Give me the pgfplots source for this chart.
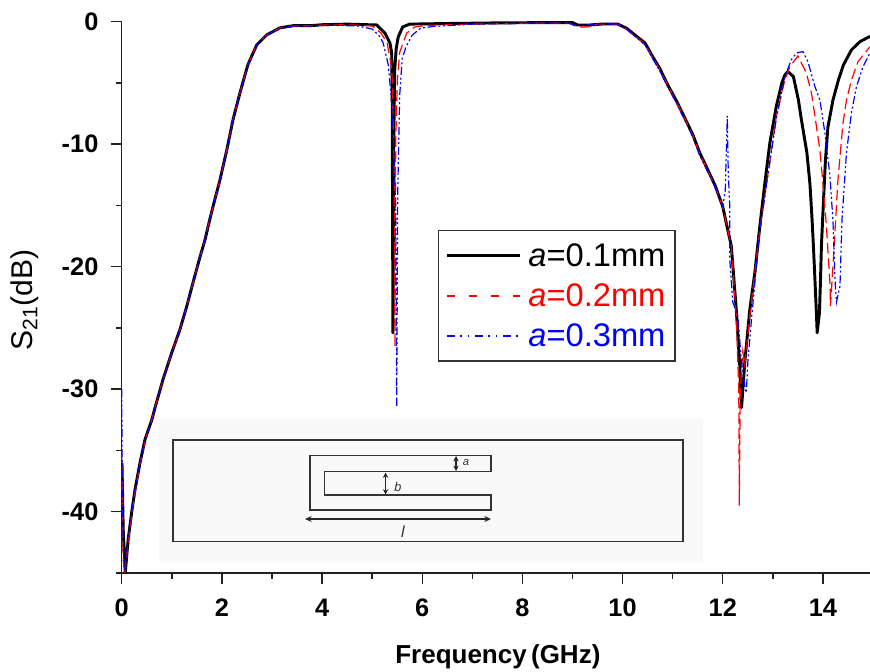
\documentclass[border=0pt]{standalone}
\usepackage{pgfplots}
\pgfplotsset{compat=1.18}
\usepackage{fontspec}
\setmainfont{Liberation Sans}
\usetikzlibrary{arrows.meta}
\definecolor{axc}{HTML}{222222}
\definecolor{legred}{RGB}{255,0,0}
\definecolor{legblue}{RGB}{0,0,255}
\begin{document}
\begin{tikzpicture}
\path[use as bounding box] (0,0) rectangle (652.5pt,503.25pt);
% inset (pixel coordinates)
\begin{scope}[x=0.75pt,y=-0.75pt,shift={(0pt,503.25pt)}]
\fill[black!2.5] (159,419) rectangle (703,563);
\draw[line width=1.3pt,black!80] (173,440) rectangle (683,541.5);
\draw[line width=1.15pt,black!80] (491,471.7) -- (491,455.5) -- (310,455.5) -- (310,510) -- (491,510) -- (491,495) -- (324.5,495) -- (324.5,471.7) -- cycle;
\draw[{Stealth[length=4pt,width=4pt]}-{Stealth[length=4pt,width=4pt]},line width=0.8pt,black!85] (456,456) -- (456,471);
\draw[{Stealth[length=4pt,width=4pt]}-{Stealth[length=4pt,width=4pt]},line width=0.8pt,black!85] (385.6,472.5) -- (385.6,494.5);
\draw[{Stealth[length=5pt,width=4.5pt]}-{Stealth[length=5pt,width=4.5pt]},line width=0.8pt,black!85] (305,519) -- (491,519);
\node[font=\fontsize{8.5}{10}\selectfont\itshape,text=black!80] at (466,463) {a};
\node[font=\fontsize{9.5}{11}\selectfont\itshape,text=black!80] at (398,487) {b};
\node[font=\fontsize{12}{14}\selectfont\itshape,text=black!80] at (403,532) {l};
\end{scope}
\begin{axis}[
  at={(91.3pt,73.5pt)},anchor=south west,
  width=561.2pt,height=413.5pt,scale only axis,
  xmin=0,xmax=14.94,ymin=-45,ymax=0,
  axis lines=left,
  axis line style={-,line width=1.1pt,color=axc},
  tick style={line width=1.1pt,color=axc},
  tick align=outside,
  major tick length=8pt,minor tick length=4.5pt,
  xtick={0,2,...,14},ytick={0,-10,-20,-30,-40},
  minor xtick={1,3,...,13},minor ytick={-5,-15,-25,-35,-45},
  /pgf/number format/assume math mode=true,
  tick label style={font=\bfseries\fontsize{19}{21}\selectfont},
  xticklabel style={yshift=-8pt},
  yticklabel style={xshift=-6pt},
  xlabel={Frequency\,(GHz)},
  xlabel style={font=\bfseries\fontsize{19.5}{21}\selectfont,at={(rel axis cs:0.5,0)},anchor=center,yshift=-62.5pt,xshift=1.5pt},
  ylabel={S\textsubscript{21}(dB)},
  ylabel style={font=\fontsize{22.5}{24}\selectfont,at={(rel axis cs:0,0.495)},anchor=center,yshift=73pt},
  legend style={at={(axis cs:6.315,-17.0)},anchor=north west,draw=black!80,line width=1.1pt,
    fill=white,inner xsep=5pt,inner ysep=7.5pt,row sep=7.5pt,
    font=\fontsize{24.5}{26}\selectfont,cells={anchor=west},
    legend cell align=left},
  clip=true,
]
\addplot[black,line width=2.2pt,line join=round,
  legend image code/.code={\draw[black,line width=2.2pt] (0pt,0pt) -- (55pt,0pt); \path (58pt,0pt);}] coordinates {
(0.005,-36) (0.03,-41.5) (0.07,-45) (0.13,-42.2) (0.2,-40) (0.265,-38.2) (0.365,-36) (0.465,-34.1) (0.6,-32.5) (0.665,-31.5) (0.824,-29.2) (1.0,-27) (1.164,-25.1) (1.297,-23.25) (1.423,-21.3) (1.563,-19.2) (1.663,-17.8) (1.743,-16.4) (1.822,-15.1) (1.962,-12.9) (2.096,-10.5) (2.222,-8) (2.361,-5.8) (2.52,-3.5) (2.695,-1.9) (2.894,-1.08) (3.16,-0.5) (3.42,-0.33) (3.76,-0.33) (4.0,-0.25) (4.5,-0.2) (5.09,-0.27) (5.256,-0.93) (5.355,-1.74) (5.39,-2.55) (5.40,-6) (5.415,-25.4) (5.43,-10) (5.45,-4) (5.48,-2.2) (5.52,-1.25) (5.61,-0.43) (5.75,-0.2) (6.5,-0.15) (7.5,-0.1) (8.35,-0.08) (9.0,-0.08) (9.1,-0.27) (9.35,-0.27) (9.6,-0.19) (9.9,-0.19) (10.08,-0.54) (10.28,-1.2) (10.45,-1.75) (10.6,-2.85) (10.74,-3.8) (10.9,-5.15) (11.08,-6.5) (11.24,-7.85) (11.4,-9.2) (11.54,-10.7) (11.68,-11.9) (11.85,-13.4) (12.0,-15.1) (12.1,-17) (12.17,-18.3) (12.27,-23.5) (12.34,-28.1) (12.375,-31.5) (12.44,-27.8) (12.54,-23.5) (12.64,-20.5) (12.74,-16.7) (12.84,-13.2) (12.94,-9.9) (13.07,-6.9) (13.18,-5) (13.24,-4.35) (13.3,-4.07) (13.41,-4.48) (13.51,-6.38) (13.57,-8) (13.68,-10.7) (13.74,-13.2) (13.78,-15.9) (13.81,-18.3) (13.84,-21) (13.87,-23.8) (13.885,-25.4) (13.93,-23.8) (13.95,-21.3) (13.97,-18.3) (14.0,-15.6) (14.05,-11.3) (14.1,-8.6) (14.2,-6.4) (14.31,-4.75) (14.41,-3.53) (14.57,-2.3) (14.74,-1.63) (14.94,-1.2)};
\addlegendentry{\textit{a}=0.1mm}
\addplot[red,line width=0.9pt,dash pattern=on 8pt off 3.5pt,
  legend image code/.code={\draw[draw=legred,line width=1pt,dash pattern=on 6pt off 10.5pt] (0pt,0pt) -- (55pt,0pt); \path (58pt,0pt);}] coordinates {
(0.0,-35) (0.03,-44) (0.06,-45) (0.13,-42.4) (0.2,-40.2) (0.265,-38.4) (0.365,-36.1) (0.465,-34.2) (0.6,-32.5) (0.665,-31.5) (0.824,-29.2) (1.0,-27) (1.164,-25.1) (1.297,-23.25) (1.423,-21.3) (1.563,-19.2) (1.663,-17.8) (1.743,-16.4) (1.822,-15.1) (1.962,-12.9) (2.096,-10.5) (2.222,-8) (2.361,-5.8) (2.52,-3.5) (2.695,-1.9) (2.894,-1.08) (3.16,-0.5) (3.42,-0.35) (3.76,-0.33) (4.0,-0.28) (4.5,-0.25) (5.0,-0.35) (5.175,-0.92) (5.3,-1.74) (5.395,-3.9) (5.44,-12) (5.455,-26.6) (5.47,-10) (5.50,-5) (5.55,-2.5) (5.69,-0.93) (5.85,-0.43) (6.1,-0.3) (7.0,-0.2) (8.35,-0.1) (8.95,-0.12) (9.05,-0.35) (9.2,-0.45) (9.35,-0.4) (9.5,-0.2) (9.9,-0.2) (10.08,-0.6) (10.28,-1.25) (10.45,-1.85) (10.6,-2.95) (10.74,-3.9) (10.9,-5.2) (11.08,-6.6) (11.24,-7.9) (11.4,-9.3) (11.54,-10.8) (11.68,-12) (11.85,-13.5) (12.0,-15.1) (12.1,-17) (12.17,-18.3) (12.27,-24) (12.32,-30) (12.33,-39.5) (12.35,-30) (12.4,-26.9) (12.44,-28) (12.54,-24) (12.74,-17) (12.87,-13.4) (13.07,-7.7) (13.24,-4.75) (13.34,-3.67) (13.5,-2.8) (13.67,-4.2) (13.77,-5.8) (13.84,-7.7) (13.94,-10.5) (14.0,-13.2) (14.07,-16.7) (14.14,-21.3) (14.15,-23.2) (14.2,-20) (14.3,-12.9) (14.4,-8.3) (14.47,-6.4) (14.57,-4.76) (14.7,-3.26) (14.94,-2.04)};
\addlegendentry{\textcolor{red}{\textit{a}=0.2mm}}
\addplot[blue,line width=0.9pt,dash pattern=on 6pt off 2pt on 1.5pt off 2pt on 1.5pt off 2pt,
  legend image code/.code={\draw[draw=legblue,line width=1pt,dash pattern=on 6pt off 4pt on 1pt off 4.5pt on 1pt off 4.5pt] (0pt,0pt) -- (55pt,0pt); \path (58pt,0pt);}] coordinates {
(0.0,-30) (0.01,-37) (0.03,-43) (0.06,-44.8) (0.13,-42.2) (0.2,-40) (0.265,-38.2) (0.365,-36) (0.465,-34.1) (0.6,-32.5) (0.665,-31.5) (0.824,-29.2) (1.0,-27) (1.164,-25.1) (1.297,-23.25) (1.423,-21.3) (1.563,-19.2) (1.663,-17.8) (1.743,-16.4) (1.822,-15.1) (1.962,-12.9) (2.096,-10.5) (2.222,-8) (2.361,-5.8) (2.52,-3.5) (2.695,-1.9) (2.894,-1.08) (3.16,-0.55) (3.42,-0.38) (3.76,-0.35) (4.2,-0.3) (4.7,-0.35) (5.0,-0.6) (5.15,-1.2) (5.22,-1.74) (5.32,-3.5) (5.40,-7) (5.47,-15) (5.49,-31.4) (5.51,-14) (5.55,-6) (5.6,-3) (5.68,-2) (5.8,-1.1) (5.97,-0.53) (6.2,-0.4) (7.0,-0.2) (8.35,-0.1) (8.9,-0.1) (9.05,-0.3) (9.35,-0.25) (9.6,-0.18) (9.9,-0.2) (10.08,-0.6) (10.28,-1.3) (10.45,-1.9) (10.6,-3) (10.74,-4) (10.9,-5.3) (11.08,-6.7) (11.24,-8) (11.4,-9.4) (11.54,-10.9) (11.68,-12.1) (11.85,-13.5) (12.0,-15.1) (12.05,-13.8) (12.09,-7.7) (12.11,-12.3) (12.14,-15.1) (12.14,-19.4) (12.2,-22.9) (12.3,-24) (12.37,-27.6) (12.44,-29.7) (12.47,-30.3) (12.5,-27.8) (12.58,-24) (12.74,-17) (12.87,-13.4) (13.07,-7.9) (13.24,-4.5) (13.37,-3.1) (13.47,-2.56) (13.6,-2.44) (13.7,-3.26) (13.84,-5.3) (13.94,-6.4) (14.04,-9.1) (14.14,-12.6) (14.2,-16.2) (14.24,-21) (14.27,-22.9) (14.34,-21.6) (14.38,-16.2) (14.47,-10.7) (14.57,-7.4) (14.67,-5.3) (14.8,-3.67) (14.94,-2.55)};
\addlegendentry{\textcolor{blue}{\textit{a}=0.3mm}}
\end{axis}
\end{tikzpicture}
\end{document}
